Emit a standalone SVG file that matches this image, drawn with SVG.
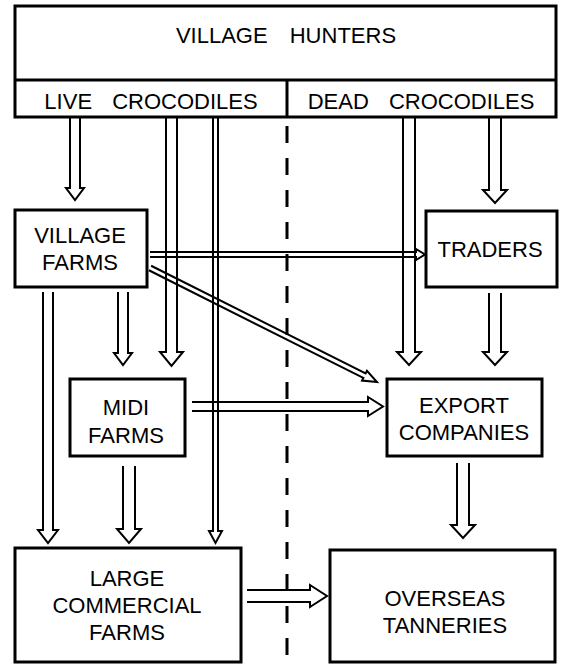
<svg xmlns="http://www.w3.org/2000/svg" width="564" height="664" viewBox="0 0 564 664">
<style>
.box{fill:none;stroke:#000;stroke-width:3}
.ln{fill:none;stroke:#000;stroke-width:3}
.arr{fill:none;stroke:#000;stroke-width:2;stroke-linejoin:miter}
.thin{fill:none;stroke:#000;stroke-width:1.6}
.t{font-family:"Liberation Sans",Arial,sans-serif;font-size:22px;fill:#000;text-anchor:middle}
.dash{fill:none;stroke:#000;stroke-width:3;stroke-dasharray:17 15}
</style>
<rect width="564" height="664" fill="#fff"/>
<line class="dash" x1="287" y1="126" x2="287" y2="664"/>
<g id="connectors">
<path class="arr" d="M70 117V188H66L75 200L84 188H80V117"/>
<path class="arr" d="M166 117V352H160L171.5 366L183 352H177V117"/>
<path class="arr" d="M213 117V531H209L215.5 543L222 531H218V117"/>
<path class="arr" d="M403 117V352H397L409 365L421 352H415V117"/>
<path class="arr" d="M489 117V190H483L495 203L507 190H501V117"/>
<path class="arr" d="M43 292V530H38L48 543L58 530H53V292"/>
<path class="arr" d="M118 292V353H114L123 365L132 353H128V292"/>
<path class="arr" d="M489 293V352H483L495 365L507 352H501V293"/>
<path class="arr" d="M123 466V529H117L129 543L141 529H135V466"/>
<path class="arr" d="M457 463V525H451L463 538L475 525H469V463"/>
<path class="arr" d="M150 252H416V249L425 254.5L416 260V257H150"/>
<path class="arr" d="M192 402H368V397L383 406.5L368 416V411H192"/>
<path class="arr" d="M247 590H310V585L327 596L310 607V602H247"/>
<path class="arr" transform="translate(150,268) rotate(26.66)" d="M0 -2.5H240V-5.5L254 0L240 5.5V2.5H0"/>
</g>
<g id="village-hunters">
<rect class="box" x="15" y="6" width="541" height="111"/>
<line class="ln" x1="15" y1="80" x2="556" y2="80"/>
<line class="ln" x1="287" y1="80" x2="287" y2="117"/>
<text class="t" x="286" y="43" font-size="23" word-spacing="16">VILLAGE HUNTERS</text>
<text class="t" x="151" y="109" word-spacing="14">LIVE CROCODILES</text>
<text class="t" x="421" y="109" word-spacing="14">DEAD CROCODILES</text>
</g>
<g id="village-farms">
<rect class="box" x="15" y="210" width="132" height="77"/>
<text class="t" x="80" y="243">VILLAGE</text>
<text class="t" x="80" y="270">FARMS</text>
</g>
<g id="traders">
<rect class="box" x="426" y="211" width="131" height="76"/>
<text class="t" x="490" y="257">TRADERS</text>
</g>
<g id="midi-farms">
<rect class="box" x="70" y="379" width="115" height="77"/>
<text class="t" x="126" y="415">MIDI</text>
<text class="t" x="126" y="443">FARMS</text>
</g>
<g id="export-companies">
<rect class="box" x="387" y="379" width="155" height="77"/>
<text class="t" x="464" y="413">EXPORT</text>
<text class="t" x="464" y="440">COMPANIES</text>
</g>
<g id="large-commercial-farms">
<rect class="box" x="15" y="548" width="226" height="114"/>
<text class="t" x="127" y="586">LARGE</text>
<text class="t" x="127" y="613">COMMERCIAL</text>
<text class="t" x="127" y="640">FARMS</text>
</g>
<g id="overseas-tanneries">
<rect class="box" x="330" y="550" width="225" height="112"/>
<text class="t" x="445" y="606">OVERSEAS</text>
<text class="t" x="445" y="633">TANNERIES</text>
</g>
</svg>
